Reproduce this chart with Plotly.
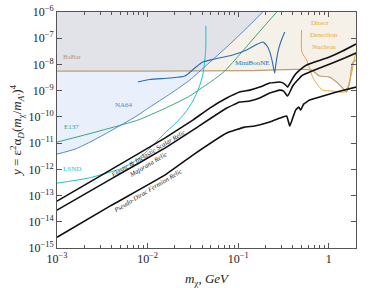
import math
import plotly.graph_objects as go

# ---------------- data ----------------
babar_m = [0.001, 0.0106, 0.134, 0.647, 0.736, 0.794, 1.02, 1.22, 1.42, 1.57, 1.70, 1.83, 2.0]
babar_y = [5.6e-9, 5.6e-9, 5.85e-9, 6.11e-9, 4.3e-9, 3.61e-9, 3.3e-9, 2.13e-9, 1.26e-9, 8.85e-10, 1.95e-9, 1.13e-8, 1.47e-8]

na64_m = [0.001, 0.00158, 0.00231, 0.00338, 0.00508, 0.00724, 0.0106, 0.0176, 0.0292, 0.0462, 0.0748, 0.118, 0.187]
na64_y = [3.8e-12, 5.9e-12, 1.09e-11, 2.21e-11, 4.86e-11, 9.82e-11, 2.37e-10, 7.41e-10, 2.54e-9, 1.04e-8, 4.61e-8, 2.06e-7, 1.0e-6]

e137_m = [0.001, 0.0022, 0.00508, 0.00782, 0.0106, 0.0176, 0.0292, 0.0378, 0.0512, 0.0711, 0.0918, 0.134, 0.182, 0.267]
e137_y = [1.09e-11, 2.21e-11, 4.86e-11, 7.55e-11, 1.17e-10, 2.58e-10, 6.22e-10, 1.15e-9, 2.32e-9, 5.6e-9, 1.47e-8, 6.56e-8, 2.24e-7, 1.0e-6]

lsnd_m = [0.001, 0.0022, 0.00384, 0.00495, 0.00724, 0.00933, 0.0127, 0.0155, 0.0200, 0.0258, 0.0316, 0.0368, 0.0407, 0.0429, 0.0440, 0.0440]
lsnd_y = [2.97e-13, 4.61e-13, 7.82e-13, 1.02e-12, 2.06e-12, 4.15e-12, 1.19e-11, 2.41e-11, 5.31e-11, 1.40e-10, 4.01e-10, 1.26e-9, 3.94e-9, 1.47e-8, 5.5e-8, 2.92e-7]

miniboone_m = [0.00782, 0.0106, 0.0176, 0.0258, 0.0332, 0.0407, 0.0552, 0.0871, 0.124, 0.164, 0.187, 0.212, 0.229, 0.240, 0.253, 0.260, 0.273, 0.295, 0.327]
miniboone_y = [2.13e-9, 2.65e-9, 3.03e-9, 3.61e-9, 7.29e-9, 1.24e-8, 1.61e-8, 2.28e-8, 3.55e-8, 6.01e-8, 7.16e-8, 4.61e-8, 2.28e-8, 1.13e-8, 4.70e-9, 9.48e-9, 2.72e-8, 7.16e-8, 1.72e-7]

dd_m = [0.502, 0.505, 0.570, 0.615, 0.664, 0.755, 0.857, 1.10, 1.50, 1.62, 1.79, 1.88, 2.0]
dd_y = [2.06e-7, 2.97e-8, 1.47e-8, 7.29e-9, 3.30e-9, 1.64e-9, 1.05e-9, 9.66e-10, 8.85e-10, 1.37e-9, 4.70e-9, 1.13e-8, 2.97e-8]

scalar_m = [0.001, 0.00298, 0.00638, 0.0155, 0.0316, 0.0486, 0.0748, 0.104, 0.134, 0.173, 0.223, 0.288, 0.327, 0.352, 0.390, 0.431, 0.478, 0.570, 0.755, 1.02, 1.42, 2.0]
scalar_y = [6.11e-14, 5.50e-13, 2.56e-12, 1.55e-11, 7.55e-11, 2.17e-10, 5.22e-10, 8.85e-10, 1.05e-9, 1.37e-9, 1.95e-9, 2.13e-9, 1.79e-9, 1.37e-9, 2.54e-9, 4.30e-9, 6.11e-9, 9.48e-9, 1.35e-8, 1.91e-8, 3.24e-8, 6.01e-8]

majorana_m = [0.001, 0.00384, 0.0155, 0.0316, 0.0748, 0.104, 0.134, 0.173, 0.223, 0.288, 0.318, 0.352, 0.400, 0.443, 0.515, 0.615, 0.794, 1.10, 1.50, 2.0]
majorana_y = [2.77e-14, 4.05e-13, 6.44e-12, 3.13e-11, 2.17e-10, 3.67e-10, 4.01e-10, 5.22e-10, 8.10e-10, 1.05e-9, 9.66e-10, 6.22e-10, 1.50e-9, 2.32e-9, 3.94e-9, 5.13e-9, 7.29e-9, 1.13e-8, 1.75e-8, 2.72e-8]

pdirac_m = [0.001, 0.00384, 0.0155, 0.0316, 0.0748, 0.118, 0.152, 0.223, 0.311, 0.344, 0.371, 0.400, 0.431, 0.466, 0.490, 0.528, 0.615, 0.794, 1.22, 2.0]
pdirac_y = [2.58e-15, 3.94e-14, 6.01e-13, 3.48e-12, 2.41e-11, 4.08e-11, 4.46e-11, 6.33e-11, 9.82e-11, 1.07e-10, 4.46e-11, 9.0e-11, 1.82e-10, 2.37e-10, 1.82e-10, 3.06e-10, 4.38e-10, 5.70e-10, 8.85e-10, 1.37e-9]

x_tickvals = [1e-3, 1e-2, 1e-1, 1]
x_ticktext = ["10<sup>\u22123</sup>", "10<sup>\u22122</sup>", "10<sup>\u22121</sup>", "1"]
y_exps = list(range(-15, -5))
y_tickvals = [10.0 ** e for e in y_exps]
y_ticktext = ["10<sup>\u2212%d</sup>" % (-e) for e in y_exps]
x_minor = [k * 10.0 ** e for e in range(-3, 1) for k in range(2, 10) if k * 10.0 ** e <= 2.0]

# label texts and anchor positions (data units)
labels = [
    ("BaBar", 0.0015, 1.91e-8, "#b8976a", 0),
    ("NA64", 0.00548, 2.82e-10, "#4f86d9", 0),
    ("E137", 0.00146, 4.08e-11, "#3aa57f", 0),
    ("LSND", 0.00146, 1.02e-12, "#22bfcf", 0),
    ("MiniBooNE", 0.145, 1.1e-8, "#2a6cb0", 0),
    ("Direct", 0.794, 3.8e-7, "#e8a73a", 0),
    ("Detection", 0.88, 1.32e-7, "#e8a73a", 0),
    ("Nucleon", 0.88, 4.61e-8, "#e8a73a", 0),
    ("<i>Elastic &amp; Inelastic Scalar Relic</i>", 0.01007, 3.98e-12, "#222222", -31),
    ("<i>Majorana Relic</i>", 0.00995, 1.58e-12, "#222222", -31),
    ("<i>Pseudo-Dirac Fermion Relic</i>", 0.00995, 1.61e-13, "#222222", -31),
]

SERIF = "Liberation Serif, DejaVu Serif, serif"

fig = go.Figure()

# filled regions
fig.add_trace(go.Scatter(x=babar_m + [2.0, 0.001], y=babar_y + [1e-6, 1e-6],
                         fill="toself", fillcolor="#f5f0e8", mode="lines",
                         line=dict(width=0), hoverinfo="skip"))
fig.add_trace(go.Scatter(x=na64_m + [0.001], y=na64_y + [1e-6],
                         fill="toself", fillcolor="rgba(145,175,235,0.2)", mode="lines",
                         line=dict(width=0), hoverinfo="skip"))

def add_line(xs, ys, color, width, smoothing=0.6):
    fig.add_trace(go.Scatter(x=xs, y=ys, mode="lines", hoverinfo="skip",
                             line=dict(color=color, width=width, shape="spline", smoothing=smoothing)))

add_line(babar_m, babar_y, "#bd9e74", 1.2)
add_line(e137_m, e137_y, "#3aa57f", 1.0)
add_line(na64_m, na64_y, "#4f86d9", 1.0)
add_line(lsnd_m, lsnd_y, "#22bfcf", 1.0)
add_line(miniboone_m, miniboone_y, "#2a6cb0", 1.1)
add_line(dd_m, dd_y, "#e8a73a", 1.0)
add_line(scalar_m, scalar_y, "#111111", 1.6, 0.3)
add_line(majorana_m, majorana_y, "#111111", 1.6, 0.3)
add_line(pdirac_m, pdirac_y, "#111111", 1.6, 0.3)

for text, xm, yv, col, ang in labels:
    fig.add_annotation(x=math.log10(xm), y=math.log10(yv), xref="x", yref="y",
                       text=text, showarrow=False, textangle=ang,
                       font=dict(family=SERIF, size=7 if ang == 0 else 6.7, color=col))

axis_common = dict(type="log", showgrid=False, zeroline=False, showline=True,
                   linecolor="#555555", linewidth=1, mirror="allticks",
                   ticks="inside", ticklen=5, tickcolor="#555555", automargin=False,
                   tickfont=dict(family=SERIF, size=12, color="#222222"))

fig.update_xaxes(range=[-3, math.log10(2.0)], tickmode="array",
                 tickvals=x_tickvals, ticktext=x_ticktext,
                 minor=dict(tickmode="array", tickvals=x_minor, ticks="inside",
                            ticklen=3, tickcolor="#555555"),
                 title=dict(text="<i>m</i><sub>\u03c7</sub>, <i>GeV</i>",
                            font=dict(family=SERIF, size=13, color="#222222"), standoff=8),
                 **axis_common)
fig.update_yaxes(range=[-15, -6], tickmode="array",
                 tickvals=y_tickvals, ticktext=y_ticktext,
                 title=dict(text="<i>y</i> = \u03b5<sup>2</sup>\u03b1<sub><i>D</i></sub>(<i>m</i><sub>\u03c7</sub>/<i>m</i><sub><i>A\u2032</i></sub>)<sup>4</sup>",
                            font=dict(family=SERIF, size=13, color="#222222"), standoff=3),
                 **axis_common)

fig.update_layout(width=374, height=288, margin=dict(l=57, r=18, t=12, b=40),
                  paper_bgcolor="white", plot_bgcolor="white", showlegend=False,
                  hovermode=False)

fig.write_html("out.html", config={"displayModeBar": False, "staticPlot": True},
               post_script="document.body.style.margin='0';document.body.style.padding='0';")
